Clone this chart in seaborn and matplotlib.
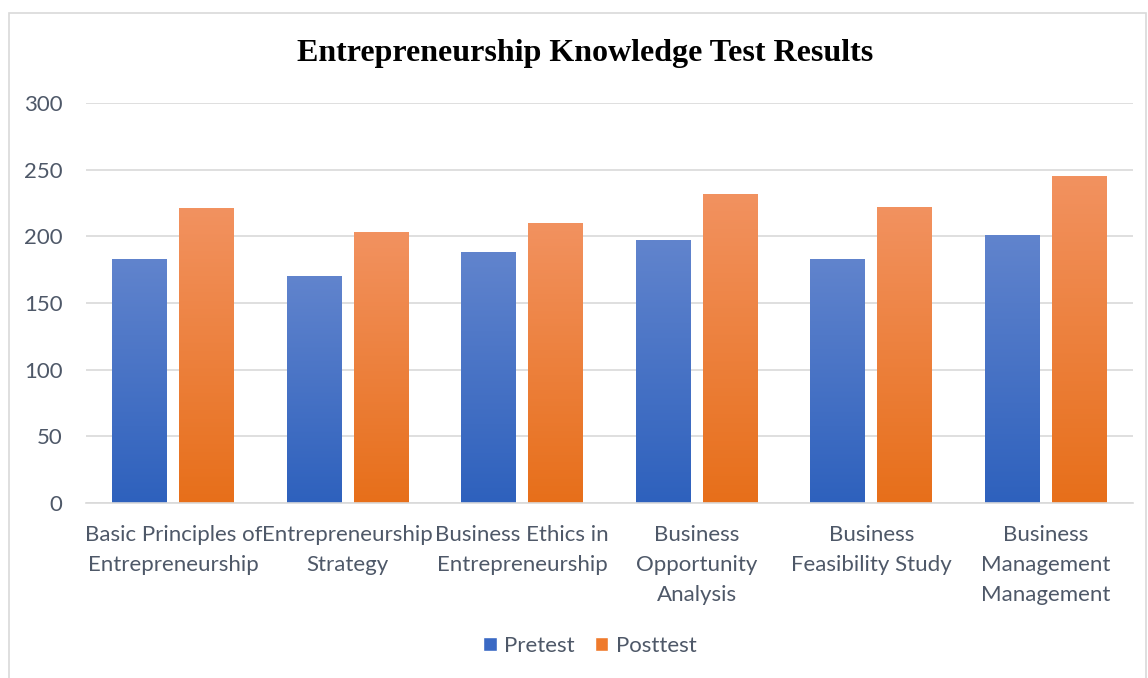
import numpy as np
import pandas as pd
import matplotlib
matplotlib.use("Agg")
import matplotlib.pyplot as plt
import seaborn as sns
from matplotlib.colors import LinearSegmentedColormap
from matplotlib.patches import Rectangle

categories = [
    "Basic Principles of\nEntrepreneurship",
    "Entrepreneurship\nStrategy",
    "Business Ethics in\nEntrepreneurship",
    "Business\nOpportunity\nAnalysis",
    "Business\nFeasibility Study",
    "Business\nManagement\nManagement",
]
pretest = [183, 170, 188, 197, 183, 201]
posttest = [221, 203, 210, 232, 222, 245]
series = ["Pretest", "Posttest"]
yticks = [0, 50, 100, 150, 200, 250, 300]

df = pd.DataFrame({
    "Category": categories * 2,
    "Score": pretest + posttest,
    "Test": ["Pretest"] * len(categories) + ["Posttest"] * len(categories),
})

sns.set_theme(style="white")
plt.rcParams["font.family"] = ["Lato", "DejaVu Sans"]

TXT = "#4e5868"

fig = plt.figure(figsize=(11.48, 6.78), dpi=100)
ax = fig.add_axes([0.0749, 0.258, 0.912, 0.590])

legend_cols = {"Pretest": "#3a69c4", "Posttest": "#ef7a2c"}
sns.barplot(data=df, x="Category", y="Score", hue="Test", hue_order=series,
            palette=legend_cols, width=0.768, gap=0.18, ax=ax, legend=True,
            saturation=1, err_kws={"linewidth": 0})

grads = {
    "Pretest": LinearSegmentedColormap.from_list("b", ["#2e61bd", "#6184cd"]),
    "Posttest": LinearSegmentedColormap.from_list("o", ["#e76f1a", "#f29260"]),
}
grad = np.linspace(0, 1, 256).reshape(-1, 1)
for cont, name in zip(ax.containers, series):
    for p in cont:
        x0, y0 = p.get_x(), p.get_y()
        w, h = p.get_width(), p.get_height()
        im = ax.imshow(grad, cmap=grads[name], origin="lower", aspect="auto",
                       extent=[x0, x0 + w, y0, y0 + h], zorder=2)
        im.set_clip_path(p)
        p.set_edgecolor("none")

ax.set_xlim(-0.5, len(categories) - 0.5)
ax.set_ylim(0, 300)
ax.set_yticks(yticks)
ax.yaxis.grid(True, color="#d9d9d9", linewidth=1.2)
ax.set_axisbelow(True)
for s in ["top", "right", "left"]:
    ax.spines[s].set_visible(False)
ax.spines["bottom"].set_color("#d9d9d9")
ax.spines["bottom"].set_linewidth(1.2)
ax.tick_params(axis="both", length=0, labelsize=16, labelcolor=TXT)
ax.tick_params(axis="x", pad=16)
ax.tick_params(axis="y", pad=17)
for lab in ax.get_xticklabels():
    lab.set_linespacing(1.62)
ax.set_xlabel("")
ax.set_ylabel("")

handles, labels = ax.get_legend_handles_labels()
ax.get_legend().remove()
fig.legend(handles, labels, loc="center", bbox_to_anchor=(0.514, 1 - 646 / 678),
           ncol=2, frameon=False, fontsize=16, labelcolor=TXT,
           handlelength=0.6, handleheight=0.6, handletextpad=0.35, columnspacing=0.9)

fig.text(0.51, 1 - 53 / 678, "Entrepreneurship Knowledge Test Results",
         ha="center", va="center", fontsize=23, fontweight="bold",
         family=["Liberation Serif", "DejaVu Serif"], color="black")

fig.patches.append(Rectangle((9 / 1148, -0.01), (1146 - 9) / 1148, 1 - 13 / 678 + 0.01,
                             transform=fig.transFigure, fill=False,
                             edgecolor="#d9d9d9", linewidth=1.2))

fig.savefig("out.png", dpi=100)
